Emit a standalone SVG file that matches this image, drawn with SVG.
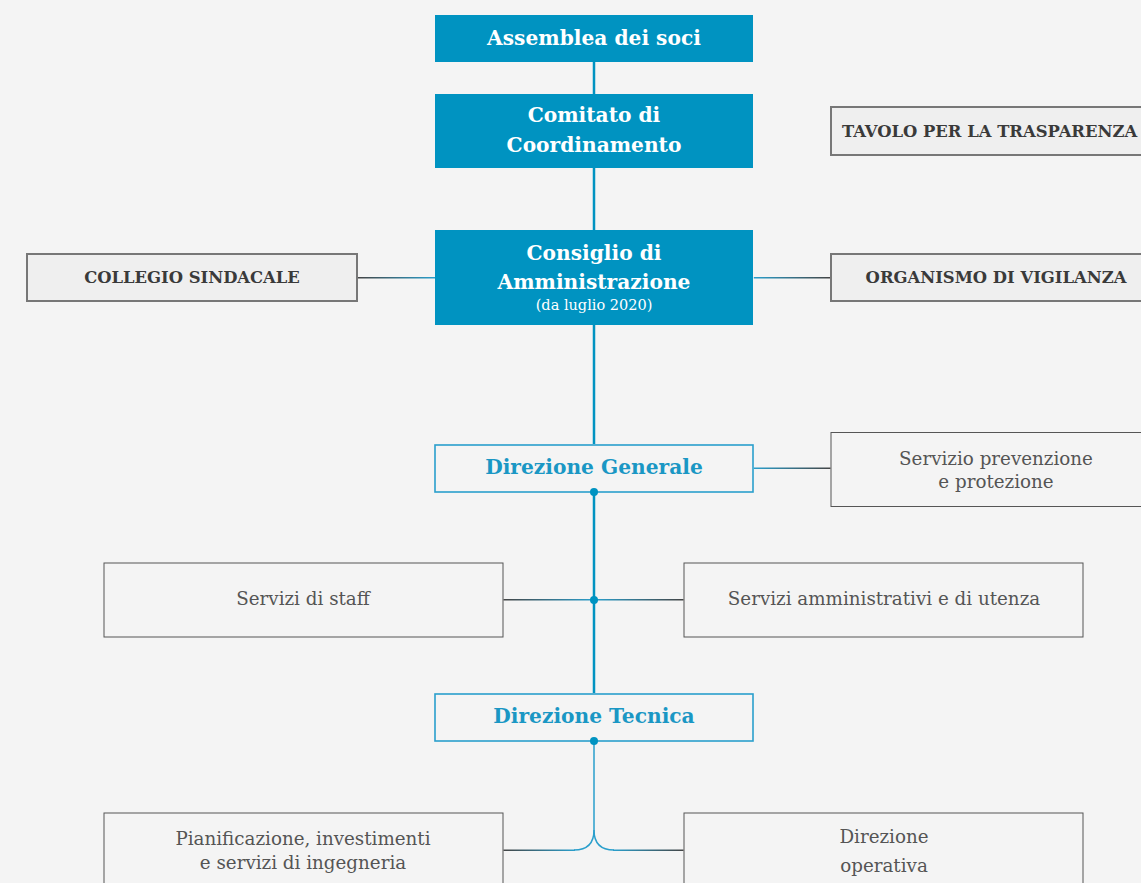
<svg xmlns="http://www.w3.org/2000/svg" width="1141" height="883" viewBox="0 0 1141 883">
<defs>
<style>
.bg{fill:#f4f4f4}
.main{fill:#0093c1}
.mt{fill:#fff;font-family:"DejaVu Serif",serif;font-weight:bold;font-size:20.2px;text-anchor:middle}
.sub{fill:#fff;font-family:"DejaVu Serif",serif;font-size:14.5px;text-anchor:middle}
.gbox{fill:#efefef;stroke:#777;stroke-width:2}
.gt{fill:#3a3a3a;font-family:"DejaVu Serif",serif;font-weight:bold;font-size:16.4px;text-anchor:middle}
.dir{fill:#f4f4f4;stroke:#2a9fcc;stroke-width:1.6}
.dt{fill:#1a97c4;font-family:"DejaVu Serif",serif;font-weight:bold;font-size:20.2px;text-anchor:middle}
.lbox{fill:#f4f4f4;stroke:#555;stroke-width:1}
.lt{fill:#555;font-family:"DejaVu Serif",serif;font-size:18.3px;text-anchor:middle}
.vline{stroke:#0093c1;stroke-width:2.5;fill:none}
.dot{fill:#0093c1}
</style>
<linearGradient id="gL" x1="0" y1="0" x2="1" y2="0"><stop offset="0" stop-color="#444"/><stop offset="1" stop-color="#2a9fcc"/></linearGradient>
<linearGradient id="gR" x1="0" y1="0" x2="1" y2="0"><stop offset="0" stop-color="#2a9fcc"/><stop offset="1" stop-color="#444"/></linearGradient>
</defs>
<rect class="bg" x="0" y="0" width="1141" height="883"/>
<g id="assemblea"><rect class="main" x="435" y="15" width="318" height="47"/><text class="mt" x="594" y="45">Assemblea dei soci</text></g>
<g id="comitato"><rect class="main" x="435" y="94" width="318" height="74"/><text class="mt" x="594" y="122">Comitato di</text><text class="mt" x="594" y="152">Coordinamento</text></g>
<g id="consiglio"><rect class="main" x="435" y="230" width="318" height="95"/><text class="mt" x="594" y="260">Consiglio di</text><text class="mt" x="594" y="289">Amministrazione</text><text class="sub" x="594" y="310">(da luglio 2020)</text></g>
<g id="tavolo"><rect class="gbox" x="831" y="107" width="320" height="48"/><text class="gt" x="842" y="137" style="text-anchor:start">TAVOLO PER LA TRASPARENZA</text></g>
<g id="collegio"><rect class="gbox" x="27" y="254" width="330" height="47"/><text class="gt" x="192" y="283">COLLEGIO SINDACALE</text></g>
<g id="organismo"><rect class="gbox" x="831" y="254" width="320" height="47"/><text class="gt" x="996" y="283">ORGANISMO DI VIGILANZA</text></g>
<g id="direzione-generale"><rect class="dir" x="435" y="445" width="318" height="47"/><text class="dt" x="594" y="474">Direzione Generale</text></g>
<g id="servizio-prevenzione"><rect class="lbox" x="831" y="432.5" width="320" height="74"/><text class="lt" x="996" y="465">Servizio prevenzione</text><text class="lt" x="996" y="488">e protezione</text></g>
<g id="servizi-staff"><rect class="lbox" x="104" y="563" width="399" height="74"/><text class="lt" x="303" y="605">Servizi di staff</text></g>
<g id="servizi-amministrativi"><rect class="lbox" x="684" y="563" width="399" height="74"/><text class="lt" x="884" y="605">Servizi amministrativi e di utenza</text></g>
<g id="direzione-tecnica"><rect class="dir" x="435" y="694" width="318" height="47"/><text class="dt" x="594" y="723">Direzione Tecnica</text></g>
<g id="pianificazione"><rect class="lbox" x="104" y="813" width="399" height="80"/><text class="lt" x="303" y="845">Pianificazione, investimenti</text><text class="lt" x="303" y="869">e servizi di ingegneria</text></g>
<g id="direzione-operativa"><rect class="lbox" x="684" y="813" width="399" height="80"/><text class="lt" x="884" y="843">Direzione</text><text class="lt" x="884" y="872">operativa</text></g>
<g id="connectors">
<line class="vline" x1="594" y1="62" x2="594" y2="94"/>
<line class="vline" x1="594" y1="168" x2="594" y2="230"/>
<line class="vline" x1="594" y1="325" x2="594" y2="444"/>
<line class="vline" x1="594" y1="493" x2="594" y2="693"/>
<path d="M594,742 V830 Q594,850 574,850" fill="none" stroke="#2a9fcc" stroke-width="1.5"/>
<path d="M594,830 Q594,850 614,850" fill="none" stroke="#2a9fcc" stroke-width="1.5"/>
<rect x="358" y="277" width="77" height="1.5" fill="url(#gL)"/>
<rect x="753.8" y="277" width="76.2" height="1.5" fill="url(#gR)"/>
<rect x="753.8" y="467.5" width="76.7" height="1.5" fill="url(#gR)"/>
<rect x="503.5" y="599" width="90.5" height="1.5" fill="url(#gL)"/>
<rect x="594" y="599" width="89.5" height="1.5" fill="url(#gR)"/>
<rect x="503.5" y="849.5" width="71.5" height="1.5" fill="url(#gL)"/>
<rect x="613" y="849.5" width="70.5" height="1.5" fill="url(#gR)"/>
<circle class="dot" cx="594" cy="492" r="4"/>
<circle class="dot" cx="594" cy="600" r="4"/>
<circle class="dot" cx="594" cy="741" r="4"/>
</g>
</svg>
